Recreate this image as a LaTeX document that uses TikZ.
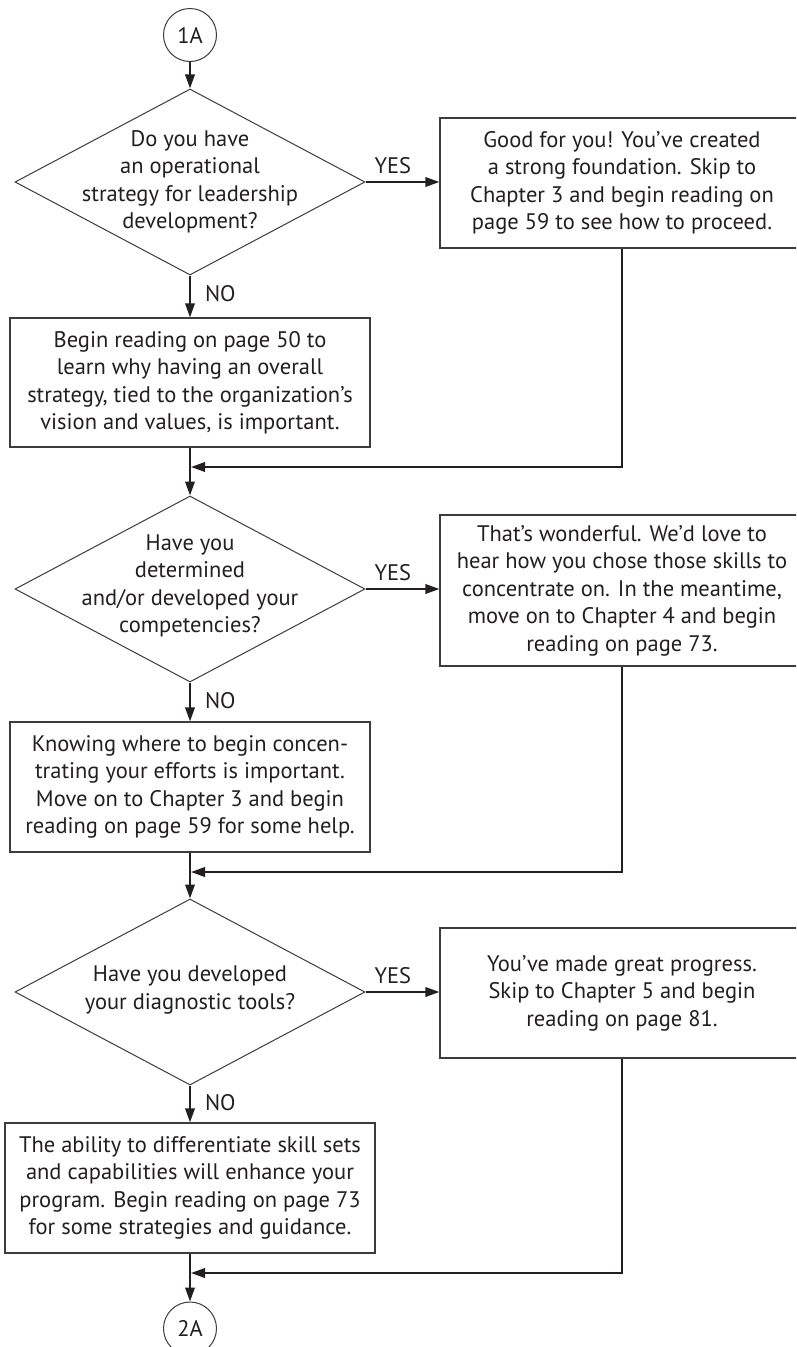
\documentclass[tikz,border=0pt]{standalone}
\usepackage{fontspec}
\setmainfont{PT Sans}
\usetikzlibrary{shapes.geometric,arrows.meta}
\definecolor{ink}{HTML}{231F20}
\definecolor{frame}{HTML}{3C3C3C}
\begin{document}
\begin{tikzpicture}[x=1pt,y=-1pt,
  every node/.style={font=\fontsize{22.5}{27.5}\selectfont, text=ink},
  box/.style={draw=frame, line width=1.2pt, rectangle, align=center, inner sep=0pt, minimum height=130pt},
  dia/.style={draw=frame, line width=1pt, diamond, inner sep=0pt,
              minimum width=350pt, minimum height=186pt},
  question/.style={align=center, inner sep=0pt},
  conn/.style={draw=ink, line width=2pt},
  arr/.style={conn, -{Triangle[length=14pt,width=9.5pt]}},
  term/.style={draw=frame, line width=1pt, circle, minimum size=53pt, inner sep=0pt},
  lbl/.style={inner sep=0pt, font=\fontsize{22.5}{24}\selectfont},
  yes/.style={lbl, pos=.37, above=7pt},
  no/.style={lbl, pos=.22, anchor=north west, xshift=14pt}
]
\fill[white] (0,0) rectangle (796,1347);
\clip (0,0) rectangle (796,1347);

% main column
\node[term] (c1) at (190,35) {1A};
\node[dia] (d1) at (190,182) {};
\node[question] (q1) at (d1.center) {Do you have\\an operational\\strategy for leadership\\development?};
\node[box, minimum width=360pt, minimum height=129pt] (n1) at (190,382.5)
  {Begin reading on page 50 to\\learn why having an overall\\strategy, tied to the organization’s\\vision and values, is important.};
\node[dia] (d2) at (190,589) {};
\node[question] (q2) at ([yshift=3pt]d2.center) {Have you\\determined\\and/or developed your\\competencies?};
\node[box, minimum width=360pt] (n2) at (190,787)
  {Knowing where to begin concen-\\trating your efforts is important.\\Move on to Chapter 3 and begin\\reading on page 59 for some help.};
\node[dia] (d3) at (190,992) {};
\node[question] (q3) at ([yshift=2pt]d3.center) {Have you developed\\your diagnostic tools?};
\node[box, minimum width=370pt] (n3) at (190,1188)
  {The ability to differentiate skill sets\\and capabilities will enhance your\\program. Begin reading on page 73\\for some strategies and guidance.};
\node[term] (c2) at (190,1328.5) {2A};

% right column
\node[box, minimum width=364pt] (y1) at (622,183)
  {Good for you! You’ve created\\a strong foundation. Skip to\\Chapter 3 and begin reading on\\page 59 to see how to proceed.};
\node[box, minimum width=364pt, minimum height=151pt] (y2) at (622,590.5)
  {That’s wonderful. We’d love to\\hear how you chose those skills to\\concentrate on. In the meantime,\\move on to Chapter 4 and begin\\reading on page 73.};
\node[box, minimum width=364pt] (y3) at (622,993)
  {You’ve made great progress.\\Skip to Chapter 5 and begin\\reading on page 81.};

% merge points on the main column
\coordinate (m1) at (191,467);
\coordinate (m2) at (191,872);
\coordinate (m3) at (191,1273);

% connectors
\draw[arr] (c1) -- (d1);
\draw[arr] (d1) -- (n1) node[no] {NO};
\draw[arr] (d1.east) -- (d1.east -| y1.west) node[yes] {YES};
\draw[arr] (y1.south) |- (m1);
\draw[arr] (n1) -- (d2);

\draw[arr] (d2) -- (n2) node[no] {NO};
\draw[arr] (d2.east) -- (d2.east -| y2.west) node[yes] {YES};
\draw[arr] (y2.south) |- (m2);
\draw[arr] (n2) -- (d3);

\draw[arr] (d3) -- (n3) node[no] {NO};
\draw[arr] (d3.east) -- (d3.east -| y3.west) node[yes] {YES};
\draw[arr] (y3.south) |- (m3);
\draw[arr] (n3) -- (c2);
\end{tikzpicture}
\end{document}
